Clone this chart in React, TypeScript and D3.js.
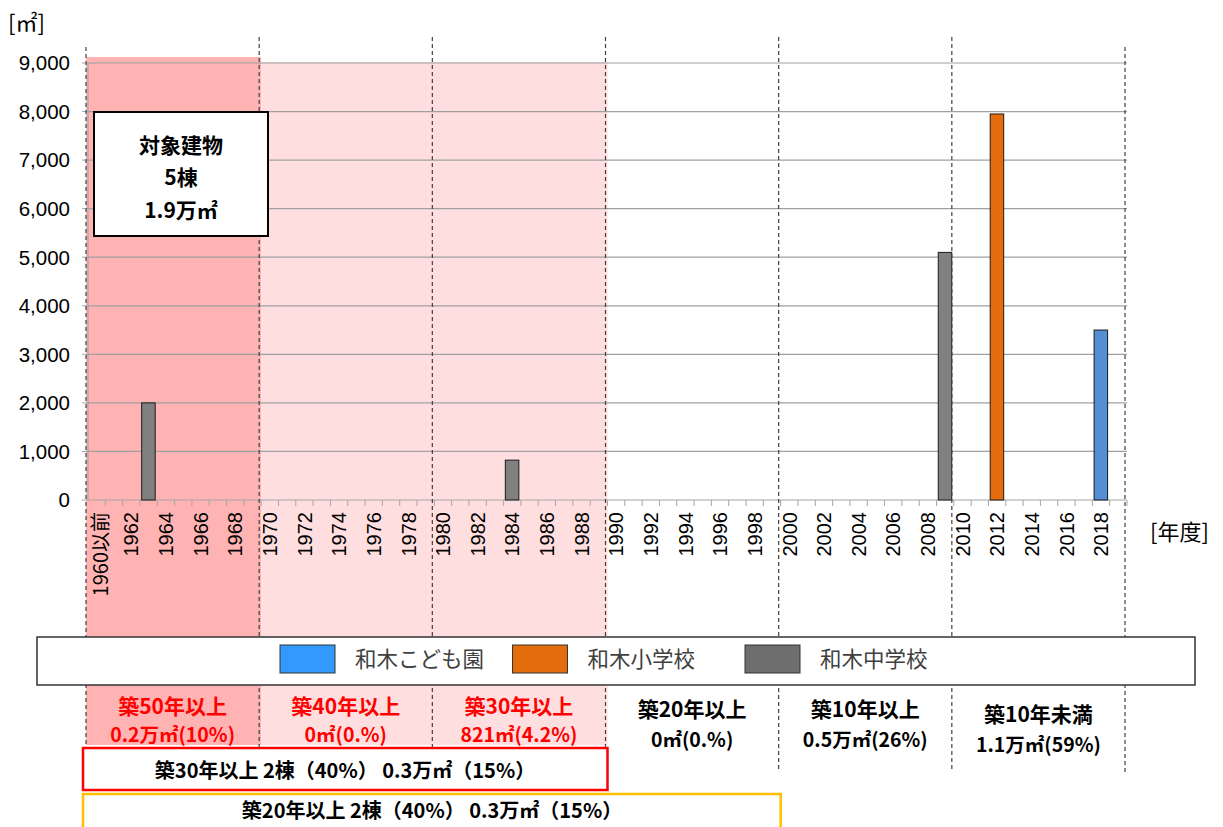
import React from "react"
import * as d3 from "d3"

// 年度カテゴリ
const categories = [
  "1960以前", "1961", "1962", "1963", "1964", "1965", "1966", "1967", "1968", "1969",
  "1970", "1971", "1972", "1973", "1974", "1975", "1976", "1977", "1978", "1979",
  "1980", "1981", "1982", "1983", "1984", "1985", "1986", "1987", "1988", "1989",
  "1990", "1991", "1992", "1993", "1994", "1995", "1996", "1997", "1998", "1999",
  "2000", "2001", "2002", "2003", "2004", "2005", "2006", "2007", "2008", "2009",
  "2010", "2011", "2012", "2013", "2014", "2015", "2016", "2017", "2018", "2019",
]
const labelCats = categories.filter((d, i) => i % 2 === 0)

const seriesNames = ["和木こども園", "和木小学校", "和木中学校"]
const barColors = ["#558ED5", "#E46C0A", "#808080"]
const legendColors = ["#3399FF", "#E46C0A", "#6E6E6E"]

const kodomoen = [{ year: "2018", value: 3500 }]
const shogakko = [{ year: "2012", value: 7950 }]
const chugakko = [
  { year: "1963", value: 2000 },
  { year: "1984", value: 821 },
  { year: "2009", value: 5100 },
]
const series = [kodomoen, shogakko, chugakko]

const yTicks = [0, 1000, 2000, 3000, 4000, 5000, 6000, 7000, 8000, 9000]

// 築年数区分
const eraStart = ["1960以前", "1970", "1980", "1990", "2000", "2010"]
const eraNames = ["築50年以上", "築40年以上", "築30年以上", "築20年以上", "築10年以上", "築10年未満"]
const eraAreas = ["0.2万㎡(10%)", "0㎡(0.%)", "821㎡(4.2%)", "0㎡(0.%)", "0.5万㎡(26%)", "1.1万㎡(59%)"]

const summaryLines = ["対象建物", "5棟", "1.9万㎡"]
const over30 = "築30年以上 2棟（40%） 0.3万㎡（15%）"
const over20 = "築20年以上 2棟（40%） 0.3万㎡（15%）"

const JP = "'Noto Sans CJK JP', sans-serif"
const NUM = "'Liberation Sans', Arial, sans-serif"

export default function App() {
  const W = 1223, H = 827
  const left = 88, right = 1127, top = 63, bottom = 500

  const x = d3.scaleBand<string>().domain(categories).range([left, right])
  const y = d3.scaleLinear().domain([0, 9000]).range([bottom, top])
  const bw = x.bandwidth()
  const edge = (i: number) => (i < categories.length ? (x(categories[i]) as number) : right)

  const eraX = eraStart.map(c => x(c) as number)
  const eraEnd = eraX.slice(1).concat([right])

  return (
    <svg width={W} height={H} style={{ position: "absolute", left: 0, top: 0, background: "#fff" }}>
      {/* 背景 */}
      <rect x={eraX[0] - 2} y={57} width={eraX[1] - eraX[0] + 2} height={745 - 57} fill="#FFB3B3" />
      <rect x={eraX[1]} y={62} width={eraX[3] - eraX[1]} height={745 - 62} fill="#FFDEDF" />

      {/* グリッド */}
      {yTicks.map(t => (
        <g key={t}>
          <line x1={left} x2={right} y1={y(t)} y2={y(t)} stroke={t === 0 ? "#A6A6A6" : "#A0A0A0"} strokeWidth={1.2} />
          <line x1={left - 6} x2={left} y1={y(t)} y2={y(t)} stroke="#A6A6A6" />
          <text x={70} y={y(t)} dy="0.36em" textAnchor="end" fontFamily={NUM} fontSize={20.5}>
            {d3.format(",")(t)}
          </text>
        </g>
      ))}
      <line x1={left} x2={left} y1={top} y2={bottom} stroke="#A6A6A6" strokeWidth={1.2} />
      {categories.map((c, i) => (
        <line key={c} x1={edge(i + 1)} x2={edge(i + 1)} y1={bottom} y2={bottom + 6} stroke="#A6A6A6" />
      ))}

      {/* 棒 */}
      {series.map((s, si) =>
        s.map(d => (
          <rect key={si + d.year} x={(x(d.year) as number) + bw * 0.1} y={y(d.value)} width={bw * 0.78}
            height={bottom - y(d.value)} fill={barColors[si]} stroke="#1a1a1a" strokeWidth={1} />
        ))
      )}

      {/* x軸ラベル */}
      {labelCats.map(c => (
        <text key={c} transform={`translate(${(x(c) as number) + bw / 2 + (c === "1960以前" ? 4 : 0)},512) rotate(-90)`}
          textAnchor="end" dy="0.36em" fontFamily={c === "1960以前" ? JP : NUM} fontSize={20}>
          {c}
        </text>
      ))}

      {/* 区分の破線 */}
      {eraX.concat([right]).map((ex, i) => (
        <line key={i} x1={ex - 2} x2={ex - 2} y1={i === 0 || i === 6 ? 47 : 37} y2={772}
          stroke="#404040" strokeWidth={1.2} strokeDasharray="4,3" />
      ))}

      {/* 単位 */}
      <text x={8} y={23} dy="0.35em" fontFamily={JP} fontSize={22}>[㎡]</text>
      <text x={1150} y={532} dy="0.35em" fontFamily={JP} fontSize={22}>[年度]</text>

      {/* 対象建物 */}
      <rect x={94} y={112} width={174} height={124} fill="#fff" stroke="#000" strokeWidth={2} />
      {summaryLines.map((t, i) => (
        <text key={t} x={181} y={145 + i * 32.5} dy="0.36em" textAnchor="middle" fontFamily={JP}
          fontWeight="bold" fontSize={21}>{t}</text>
      ))}

      {/* 凡例 */}
      <rect x={37} y={637} width={1158} height={48} fill="#fff" stroke="#333" strokeWidth={1.5} />
      {seriesNames.map((n, i) => (
        <g key={n} transform={`translate(${280 + i * 232.5},645)`}>
          <rect width={55} height={28} fill={legendColors[i]} stroke="#333" strokeWidth={1} />
          <text x={75} y={14} dy="0.36em" fontFamily={JP} fontSize={21.5} fill="#404040">{n}</text>
        </g>
      ))}

      {/* 区分ラベル */}
      {eraNames.map((n, i) => {
        const cx = (eraX[i] + eraEnd[i]) / 2 - 2
        const off = i < 3 ? 0 : i < 5 ? 3 : 8
        const col = i < 3 ? "#FF0000" : "#000"
        return (
          <g key={n}>
            <text x={cx} y={706 + off} dy="0.36em" textAnchor="middle" fontFamily={JP} fontWeight="bold"
              fontSize={21} fill={col}>{n}</text>
            <text x={cx} y={735 + off + (i < 3 ? 0 : 2)} dy="0.36em" textAnchor="middle" fontFamily={JP}
              fontWeight="bold" fontSize={19.5} fill={col}>{eraAreas[i]}</text>
          </g>
        )
      })}

      {/* 集計枠 */}
      <rect x={83} y={748} width={eraX[3] - 83} height={42} fill="#fff" stroke="#FF0000" strokeWidth={2.5} />
      <text x={345} y={771} dy="0.36em" textAnchor="middle" fontFamily={JP} fontWeight="bold"
        fontSize={20}>{over30}</text>
      <rect x={83} y={794} width={eraX[4] - 83} height={50} fill="#fff" stroke="#FFC000" strokeWidth={2.5} />
      <text x={432} y={811} dy="0.36em" textAnchor="middle" fontFamily={JP} fontWeight="bold"
        fontSize={20}>{over20}</text>
    </svg>
  )
}
